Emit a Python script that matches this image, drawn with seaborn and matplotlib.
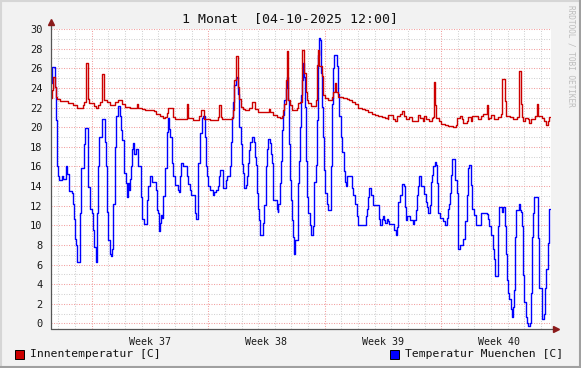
import numpy as np
import pandas as pd
import matplotlib
matplotlib.use("Agg")
import matplotlib.pyplot as plt
from matplotlib.patches import Rectangle
from matplotlib.lines import Line2D
import seaborn as sns

# ---------------- data (days since graph start, values in C) ----------------
title = "1 Monat  [04-10-2025 12:00]"
week_labels = ["Week 37", "Week 38", "Week 39", "Week 40"]
week_starts = [2.45, 9.45, 16.45, 23.45]
legend_labels = ["Innentemperatur [C]", "Temperatur Muenchen [C]"]

red_days = [0.00, 0.04, 0.10, 0.24, 0.30, 0.34, 0.54, 1.04, 1.34, 1.54, 1.64, 1.84, 1.94, 2.00,
            2.08, 2.20, 2.28, 2.60, 2.68, 2.84, 2.93, 3.04, 3.17, 3.21, 3.35, 3.53, 3.85, 4.01,
            4.29, 4.45, 4.75, 4.85, 5.15, 5.25, 5.41, 5.49, 5.65, 6.21, 6.31, 6.55, 6.75, 6.85,
            6.95, 7.05, 7.31, 7.45, 8.15, 8.21, 8.55, 8.89, 8.99, 9.19, 9.55, 10.05, 10.12, 10.20,
            10.30, 10.86, 10.96, 11.02, 11.12, 11.22, 11.26, 11.32, 11.40, 11.56, 11.66, 11.90,
            12.10, 12.26, 12.46, 12.86, 13.10, 13.16, 13.36, 13.56, 13.76, 13.86, 13.96, 14.02,
            14.12, 14.16, 14.22, 14.26, 14.36, 14.50, 14.76, 14.86, 14.99, 15.10, 15.22, 15.30,
            15.36, 15.46, 15.62, 15.93, 16.01, 16.06, 16.13, 16.30, 16.37, 16.47, 16.67, 16.87,
            16.97, 17.07, 17.15, 17.27, 17.57, 17.77, 17.93, 18.07, 18.27, 18.47, 18.67, 18.87,
            19.07, 19.27, 19.47, 19.67, 19.87, 20.07, 20.23, 20.27, 20.57, 20.67, 20.77, 20.97,
            21.07, 21.23, 21.35, 21.53, 21.67, 22.03, 22.17, 22.33, 22.43, 22.53, 22.73, 22.87,
            22.94, 23.00, 23.09, 23.14, 23.30, 23.42, 23.68, 23.88, 24.18, 24.34, 24.38, 24.58,
            24.68, 24.78, 24.98, 25.08, 25.24, 25.32, 25.64, 25.84, 25.98, 26.18, 26.24, 26.34,
            26.44, 26.64, 26.84, 27.04, 27.12, 27.26, 27.34, 27.58, 27.78, 28.02, 28.10, 28.24,
            28.33, 28.39, 28.49, 28.65, 28.75, 28.85, 29.08, 29.18, 29.25, 29.53, 29.65, 29.75,
            29.85, 29.93, 29.98]
red_vals = [23.0, 23.8, 25.1, 24.1, 23.1, 22.9, 22.7, 22.5, 22.3, 22.0, 21.9, 22.0, 22.3, 22.6,
            26.5, 22.9, 22.5, 22.2, 22.0, 22.3, 22.6, 25.4, 24.5, 22.8, 22.6, 22.3, 22.6, 22.8,
            22.4, 22.1, 21.9, 22.0, 22.4, 22.0, 21.9, 21.8, 21.7, 21.6, 21.3, 21.1, 20.9, 21.0,
            21.4, 21.9, 21.0, 20.8, 22.4, 20.9, 20.7, 21.1, 21.7, 20.8, 20.7, 21.0, 22.3, 21.0,
            20.8, 21.0, 21.7, 24.8, 27.2, 25.5, 24.1, 22.9, 22.1, 21.8, 21.7, 22.0,
            22.6, 21.8, 21.5, 21.5, 21.8, 21.5, 21.2, 21.0, 20.9, 21.1, 21.7, 22.4,
            24.8, 27.8, 24.5, 22.8, 22.3, 21.7, 21.9, 22.5, 22.6, 27.9, 25.5, 23.6,
            22.8, 22.5, 22.2, 22.8, 26.3, 27.9, 26.2, 25.2, 23.3, 23.0, 22.8, 23.1,
            23.6, 24.5, 23.6, 23.1, 23.0, 22.9, 22.8, 22.6, 22.4, 22.0, 21.8, 21.7,
            21.5, 21.3, 21.2, 21.1, 21.0, 20.9, 20.8, 21.2, 20.8, 20.6, 21.1, 21.3,
            21.6, 21.1, 20.8, 21.0, 20.6, 21.2, 20.9, 20.6, 21.1, 20.8, 20.6, 20.9,
            21.0, 24.6, 22.3, 20.9, 20.6, 20.3, 20.2, 20.1, 20.0, 20.2, 20.9, 21.1,
            20.8, 20.4, 20.6, 21.0, 20.6, 21.1, 20.8, 21.1, 21.3, 22.3, 20.8, 20.9,
            21.2, 20.8, 21.0, 21.3, 24.9, 22.7, 21.1, 21.0, 20.8, 21.0, 25.7, 22.4,
            21.0, 20.6, 20.9, 20.8, 20.4, 20.8, 21.1, 22.4, 21.1, 20.9, 20.6, 20.2,
            20.6, 21.0, 21.0]

blue_days = [0.00, 0.08, 0.24, 0.30, 0.34, 0.44, 0.48, 0.64, 0.70, 0.88, 0.96, 1.10, 1.24, 1.34,
             1.40, 1.44, 1.50, 1.58, 1.74, 1.80, 1.98, 2.04, 2.20, 2.24, 2.34, 2.44, 2.54, 2.60,
             2.68, 2.78, 2.84, 2.90, 3.04, 3.25, 3.31, 3.39, 3.45, 3.55, 3.61, 3.69, 3.75, 3.85,
             3.91, 4.05, 4.15, 4.21, 4.29, 4.39, 4.41, 4.51, 4.57, 4.61, 4.69, 4.75, 4.81, 4.85,
             4.95, 5.01, 5.09, 5.21, 5.25, 5.41, 5.49, 5.59, 5.79, 5.85, 5.93, 6.05, 6.29, 6.35,
             6.45, 6.49, 6.55, 6.61, 6.69, 6.75, 6.85, 6.95, 7.05, 7.09, 7.15, 7.25, 7.35, 7.45,
             7.65, 7.71, 7.75, 7.81, 7.95, 8.15, 8.25, 8.35, 8.41, 8.65, 8.71, 8.81, 8.85, 8.95,
             9.09, 9.15, 9.25, 9.31, 9.39, 9.45, 9.55, 9.72, 9.80, 9.92, 10.02, 10.10, 10.16,
             10.36, 10.52, 10.60, 10.76, 10.82, 10.88, 10.96, 11.02, 11.12, 11.20, 11.26, 11.32,
             11.40, 11.46, 11.56, 11.62, 11.70, 11.78, 11.86, 11.92, 11.96, 12.06, 12.20, 12.26,
             12.30, 12.36, 12.42, 12.50, 12.56, 12.72, 12.80, 12.90, 12.96, 13.02, 13.16, 13.22,
             13.26, 13.32, 13.36, 13.56, 13.62, 13.66, 13.76, 13.82, 13.90, 13.96, 14.02, 14.12,
             14.20, 14.26, 14.32, 14.36, 14.42, 14.46, 14.52, 14.58, 14.62, 14.66, 14.82, 14.90,
             14.96, 15.02, 15.08, 15.17, 15.22, 15.27, 15.33, 15.37, 15.47, 15.57, 15.63, 15.77,
             15.81, 15.91, 15.97, 16.03, 16.09, 16.17, 16.23, 16.31, 16.37, 16.43, 16.47, 16.57,
             16.63, 16.83, 16.87, 16.97, 17.03, 17.17, 17.23, 17.31, 17.41, 17.51, 17.61, 17.67,
             17.73, 17.81, 18.07, 18.17, 18.27, 18.37, 18.47, 18.91, 18.97, 19.07, 19.13, 19.23,
             19.37, 19.73, 19.77, 19.87, 19.97, 20.03, 20.07, 20.17, 20.23, 20.33, 20.63, 20.71,
             20.81, 20.87, 20.97, 21.07, 21.21, 21.27, 21.33, 21.39, 21.57, 21.77, 21.83, 21.91,
             21.97, 22.03, 22.11, 22.23, 22.44, 22.54, 22.60, 22.68, 22.78, 22.84, 22.92, 22.98,
             23.08, 23.14, 23.20, 23.28, 23.38, 23.58, 23.68, 23.78, 23.88, 23.92, 23.98, 24.04,
             24.12, 24.28, 24.38, 24.44, 24.48, 24.58, 24.78, 24.88, 24.98, 25.08, 25.14, 25.22,
             25.32, 25.44, 25.54, 25.84, 26.18, 26.24, 26.34, 26.44, 26.54, 26.62, 26.68, 26.84,
             26.88, 26.94, 27.08, 27.18, 27.28, 27.34, 27.40, 27.44, 27.54, 27.64, 27.72, 27.78,
             27.84, 27.88, 27.94, 28.12, 28.18, 28.24, 28.33, 28.39, 28.45, 28.53, 28.59, 28.69,
             28.79, 28.85, 28.89, 28.99, 29.05, 29.15, 29.25, 29.33, 29.53, 29.63, 29.69, 29.75,
             29.85, 29.91, 29.98]
blue_vals = [24.5, 26.1, 24.1, 20.7, 16.0, 15.0, 14.6, 15.0, 14.7, 16.0, 15.2, 13.5, 13.3, 12.2,
             10.6, 8.6, 8.0, 6.3, 11.3, 15.8, 18.3, 19.9, 18.3, 13.9, 11.7, 11.2, 9.5, 7.8,
             6.3, 11.3, 16.0, 19.0, 20.8, 18.5, 16.0, 11.4, 8.5, 7.1, 6.9, 7.6, 12.2, 18.0,
             21.1, 22.2, 21.1, 19.7, 18.7, 18.3, 15.3, 14.3, 12.9, 14.3, 13.6, 14.7, 16.0, 17.8,
             18.4, 17.3, 17.8, 17.3, 16.0, 12.9, 10.6, 10.1, 12.6, 14.0, 15.0, 14.4, 13.6, 11.6,
             11.2, 9.4, 10.2, 11.0, 10.7, 13.0, 15.8, 19.5, 20.9, 19.8, 19.0, 16.3, 15.0, 14.1,
             13.6, 13.4, 15.0, 16.3, 16.0, 15.0, 14.2, 13.6, 13.1, 11.2, 10.6, 12.6, 16.3, 19.4,
             20.9, 21.1, 19.0, 16.0, 15.0, 14.0, 13.6, 13.1, 13.4, 13.6, 14.0, 15.0, 15.6,
             13.8, 14.6, 15.0, 16.0, 18.5, 20.9, 22.6, 24.3, 25.0, 25.1, 23.4, 20.0,
             18.3, 16.2, 15.3, 13.8, 14.1, 15.0, 16.3, 17.7, 18.5, 19.0, 18.5, 17.0,
             16.1, 13.3, 11.7, 10.5, 9.0, 10.2, 12.1, 16.0, 17.8, 18.8, 18.4, 17.3,
             16.3, 15.3, 12.6, 11.7, 11.4, 12.2, 14.3, 16.6, 19.7, 21.2, 22.8, 24.0,
             25.1, 22.8, 18.3, 14.6, 12.6, 10.5, 8.8, 8.2, 7.1, 8.5, 14.3, 16.6,
             20.0, 23.3, 24.8, 26.5, 25.1, 22.1, 16.6, 12.9, 11.2, 10.0, 9.0, 9.9,
             14.4, 16.1, 20.7, 27.4, 29.1, 28.9, 25.5, 22.1, 19.0, 15.6, 13.3, 12.2,
             11.6, 16.0, 22.4, 26.0, 27.4, 26.2, 23.4, 21.1, 19.0, 17.5, 15.5, 14.4,
             14.0, 15.0, 13.8, 13.1, 12.2, 10.9, 10.0, 10.9, 11.7, 12.9, 13.8, 13.1,
             12.1, 10.6, 10.0, 10.6, 10.9, 10.5, 10.2, 10.6, 10.4, 10.1, 9.5, 9.0,
             9.8, 12.4, 13.1, 14.2, 14.0, 11.9, 10.5, 10.9, 10.5, 10.1, 10.5, 11.6,
             13.1, 14.0, 15.0, 14.0, 13.2, 12.4, 11.9, 11.2, 12.1, 14.4, 15.1, 16.0,
             16.4, 16.1, 14.3, 11.2, 10.7, 10.4, 10.0, 10.7, 11.7, 12.2, 13.3, 15.1,
             16.8, 14.6, 13.3, 10.6, 7.6, 8.0, 8.6, 10.4, 13.1, 15.8, 16.1, 14.1,
             11.7, 11.0, 10.0, 11.3, 11.1, 10.6, 9.9, 9.0, 7.6, 6.6, 4.8, 6.1,
             9.9, 11.9, 11.4, 11.9, 9.9, 7.1, 4.4, 3.1, 2.5, 1.5, 0.7, 1.7,
             3.4, 8.8, 11.6, 12.2, 11.6, 11.4, 9.9, 4.9, 2.2, 0.7, 0.0, -0.3,
             0.0, 3.1, 8.8, 11.3, 12.9, 12.9, 8.7, 3.6, 0.5, 1.0, 3.6, 5.5,
             8.2, 11.7, 11.7]

red_df = pd.DataFrame({"day": red_days, "temp": red_vals})
blue_df = pd.DataFrame({"day": blue_days, "temp": blue_vals})

# ---------------- style ----------------
sns.set_theme(style="white")
MONO = ["DejaVu Sans Mono", "DejaVu Sans"]
plt.rcParams["font.family"] = MONO

RED = "#CC0000"
BLUE = "#0000FF"
BACK = "#F2F2F2"
W, H = 581, 368

fig = plt.figure(figsize=(W / 100, H / 100), dpi=100, facecolor=BACK)
ax = fig.add_axes([51 / W, 1 - 329.3 / H, 500 / W, 300.3 / H])
ax.set_facecolor("white")

sns.lineplot(data=blue_df, x="day", y="temp", ax=ax, color=BLUE, lw=1.0,
             drawstyle="steps-post", estimator=None, zorder=3)
sns.lineplot(data=red_df, x="day", y="temp", ax=ax, color=RED, lw=1.0,
             drawstyle="steps-post", estimator=None, zorder=4)

ax.set_xlim(0, 30.05)
ax.set_ylim(-0.6, 30.0)
ax.set_xlabel("")
ax.set_ylabel("")

# grid
ax.set_xticks(week_starts)
ax.set_xticklabels([])
ax.set_xticks([0.45 + k for k in range(30)], minor=True)
ax.set_yticks(range(0, 31, 2))
ax.set_yticks(range(0, 31, 1), minor=True)
dot = (0, (1, 1.4))
ax.grid(True, which="minor", color="#D2D2D2", linestyle=dot, lw=0.75, zorder=0)
ax.grid(True, which="major", color="#F2A0A0", linestyle=dot, lw=0.75, zorder=1)
ax.set_axisbelow(True)

ax.tick_params(axis="y", which="major", length=3, width=0.7, color="#909090",
               labelsize=7.5, pad=3, labelcolor="#1A1A1A")
ax.tick_params(axis="y", which="minor", length=2, width=0.7, color="#B0B0B0")
ax.tick_params(axis="x", which="major", length=3, width=0.7, color="#E08080")
ax.tick_params(axis="x", which="minor", length=2, width=0.7, color="#B0B0B0")
for lbl in ax.get_yticklabels():
    lbl.set_family(MONO)

for s in ax.spines.values():
    s.set_visible(False)

# axis lines with arrows
ax.plot([0, 0], [0, 1.02], transform=ax.transAxes, color="#555555", lw=0.9,
        clip_on=False, zorder=5)
ax.plot([0, 1.006], [0, 0], transform=ax.transAxes, color="#555555", lw=0.9,
        clip_on=False, zorder=5)
ax.plot([0], [1.023], transform=ax.transAxes, marker="^", ms=4, color="#8B1A1A",
        clip_on=False, zorder=6)
ax.plot([1.009], [0], transform=ax.transAxes, marker=">", ms=4, color="#8B1A1A",
        clip_on=False, zorder=6)

# week labels centred mid-week
for ws, lab in zip(week_starts, week_labels):
    ax.text(ws + 3.5, -0.027, lab, transform=ax.get_xaxis_transform(),
            ha="center", va="top", fontsize=7.2, family=MONO, color="#1A1A1A")

# title
fig.text(290 / W, 1 - 19 / H, title, ha="center", va="center", fontsize=9.5,
         family=MONO, color="#111111")

# watermark
fig.text(571 / W, 1 - 5 / H, "RRDTOOL / TOBI OETIKER", rotation=270,
         ha="center", va="top", fontsize=5.6, family=MONO, color="#BDBDBD")

# legend
for (x0, txt, col) in [(15, legend_labels[0], RED), (390, legend_labels[1], BLUE)]:
    fig.patches.append(Rectangle((x0 / W, 1 - 358.5 / H), 9 / W, 9 / H,
                                 transform=fig.transFigure, facecolor=col,
                                 edgecolor="black", lw=0.7))
    fig.text((x0 + 15) / W, 1 - 354 / H, txt, ha="left", va="center",
             fontsize=8.2, family=MONO, color="#111111")

# 3D-ish frame
fig.add_artist(Line2D([0, 1], [1 - 1 / H, 1 - 1 / H], transform=fig.transFigure,
                      color="#D6D6D6", lw=1.5))
fig.add_artist(Line2D([1 / W, 1 / W], [0, 1], transform=fig.transFigure,
                      color="#D6D6D6", lw=1.5))
fig.add_artist(Line2D([0, 1], [1 / H, 1 / H], transform=fig.transFigure,
                      color="#A0A0A0", lw=1.5))
fig.add_artist(Line2D([1 - 1 / W, 1 - 1 / W], [0, 1], transform=fig.transFigure,
                      color="#A0A0A0", lw=1.5))

fig.savefig("out.png", dpi=100, facecolor=BACK)
